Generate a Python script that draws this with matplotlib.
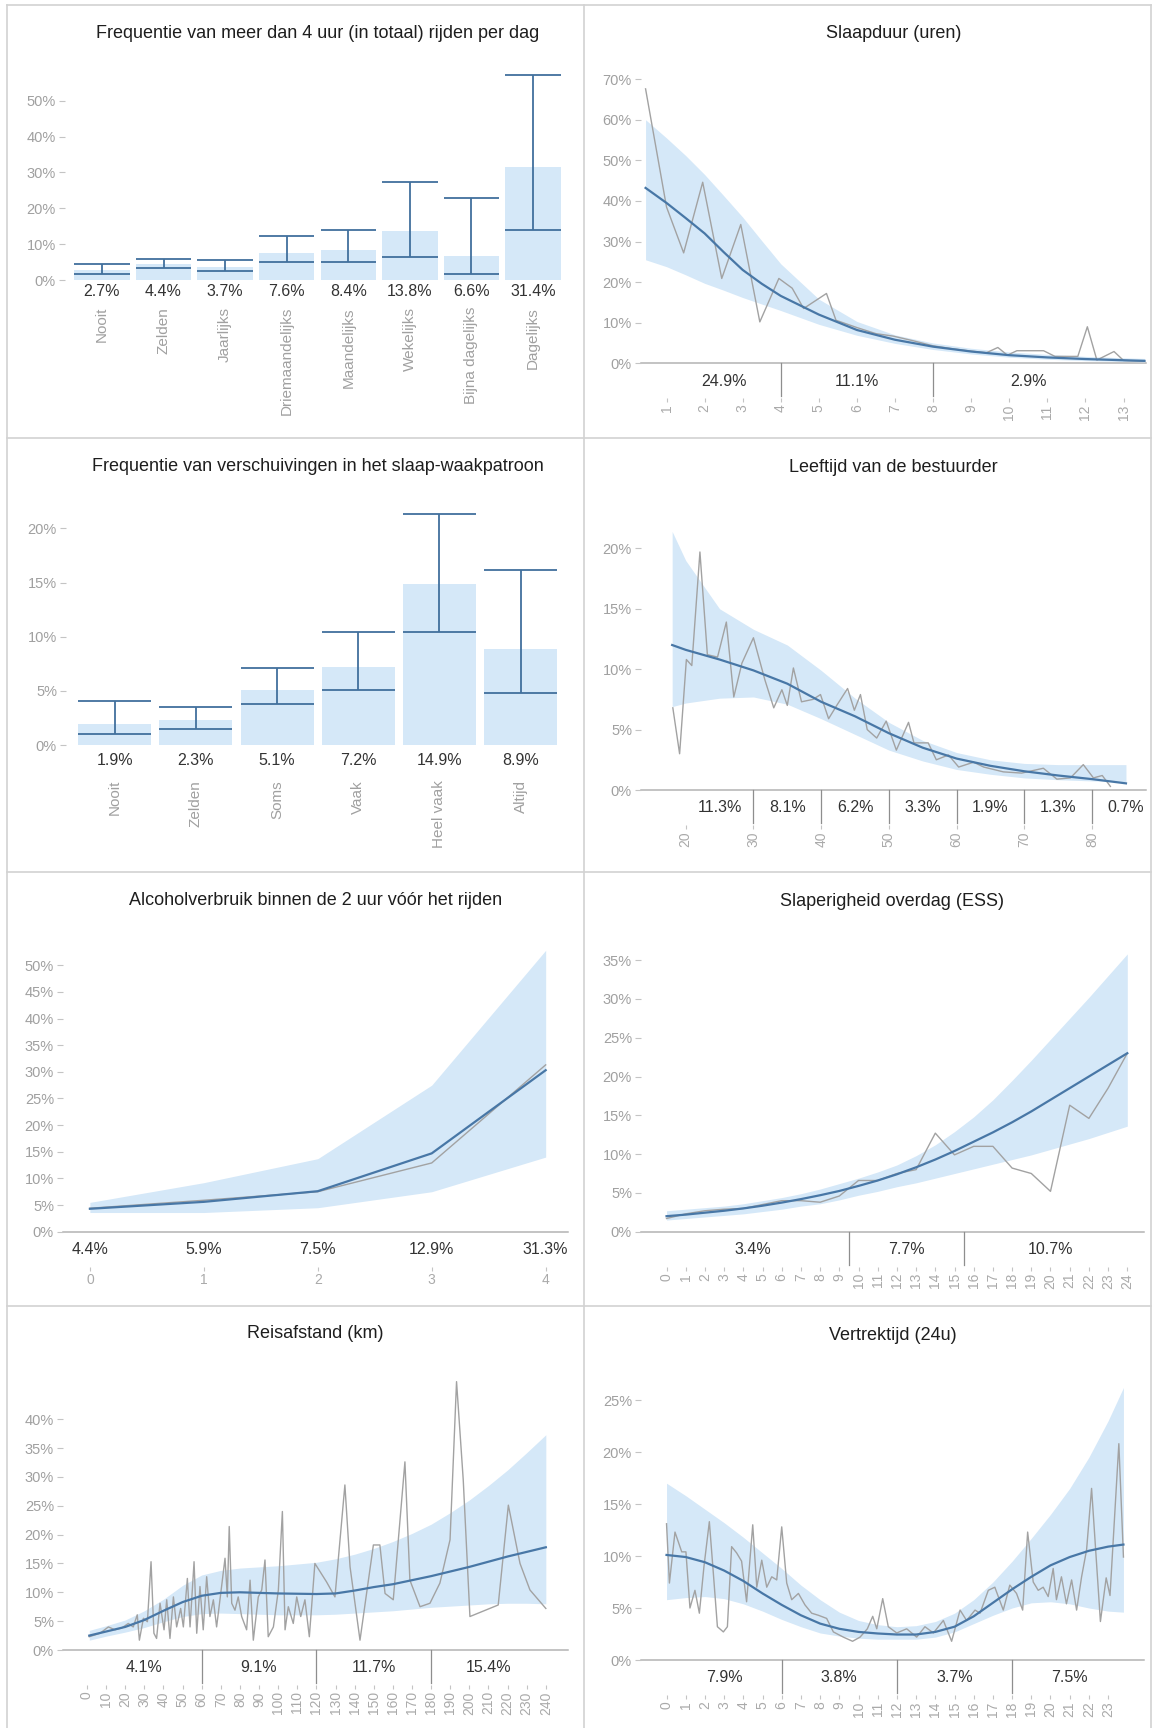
import matplotlib
matplotlib.use("Agg")
import matplotlib.pyplot as plt
from matplotlib.lines import Line2D
from matplotlib.transforms import blended_transform_factory, offset_copy
from matplotlib.ticker import FuncFormatter

plt.rcParams['font.family'] = ['Liberation Sans', 'DejaVu Sans']

# ---------------- data ----------------
# Frequentie van meer dan 4 uur rijden per dag
drive_cats = ['Nooit', 'Zelden', 'Jaarlijks', 'Driemaandelijks', 'Maandelijks',
              'Wekelijks', 'Bijna dagelijks', 'Dagelijks']
drive_pct = [2.7, 4.4, 3.7, 7.6, 8.4, 13.8, 6.6, 31.4]
drive_lo = [1.7, 3.4, 2.5, 4.9, 5.0, 6.3, 1.7, 13.9]
drive_hi = [4.6, 5.8, 5.6, 12.3, 13.9, 27.3, 22.8, 57.1]

# Frequentie van verschuivingen in het slaap-waakpatroon
shift_cats = ['Nooit', 'Zelden', 'Soms', 'Vaak', 'Heel vaak', 'Altijd']
shift_pct = [1.9, 2.3, 5.1, 7.2, 14.9, 8.9]
shift_lo = [1.0, 1.5, 3.75, 5.1, 10.4, 4.8]
shift_hi = [4.1, 3.5, 7.1, 10.4, 21.3, 16.2]

# Slaapduur (uren)
sleep_x = [0.45, 1.0, 1.45, 1.95, 2.45, 2.95, 3.45, 3.95, 4.3, 4.6, 5.2, 5.45, 6.0,
           6.5, 6.95, 7.5, 8.0, 8.5, 9.0, 9.4, 9.7, 9.95, 10.2, 10.9, 11.2, 11.8,
           12.05, 12.3, 12.75, 13.0, 13.55]
sleep_obs = [67.6, 38.5, 27.2, 44.6, 20.9, 34.2, 10.2, 20.9, 18.5, 13.5, 17.2, 10.6,
             8.8, 7.3, 6.7, 5.5, 4.3, 3.6, 3.0, 2.6, 3.9, 2.0, 3.1, 3.1, 1.7, 1.7,
             9.0, 0.8, 2.9, 0.7, 0.5]
sleep_fit_x = [0.45, 1, 1.5, 2, 2.5, 3, 3.5, 4, 5, 6, 7, 8, 9, 10, 11, 12, 13, 13.55]
sleep_fit = [43.2, 39.5, 35.8, 32.0, 27.4, 23.0, 19.6, 16.6, 12.0, 8.2, 5.8, 4.1, 2.9,
             2.0, 1.45, 1.05, 0.75, 0.6]
sleep_hi = [60.0, 55.5, 51.2, 46.5, 41.3, 36.0, 30.2, 24.5, 15.8, 10.3, 7.0, 5.0, 3.7,
            2.8, 2.2, 1.7, 1.35, 1.2]
sleep_lo = [25.5, 23.8, 21.8, 19.7, 18.0, 16.2, 14.6, 13.0, 9.6, 6.9, 4.9, 3.4, 2.3,
            1.5, 1.0, 0.65, 0.45, 0.35]
sleep_edges = [1, 4, 8, 13]
sleep_bins = ['24.9%', '11.1%', '2.9%']

# Leeftijd van de bestuurder
age_x = [18.1, 19.1, 20.1, 20.9, 22.1, 23.2, 24.7, 26.0, 27.1, 28.3, 30.0, 31.7, 33.0,
         34.2, 35.0, 35.9, 37.1, 38.8, 39.9, 41.1, 42.3, 43.9, 44.9, 45.8, 46.8, 48.2,
         49.6, 51.1, 52.9, 53.7, 55.8, 57.0, 58.8, 60.3, 62.5, 64.0, 66.9, 69.6, 72.8,
         74.8, 76.8, 78.7, 80.2, 81.5, 82.7]
age_obs = [6.8, 3.0, 10.8, 10.3, 19.7, 11.2, 11.0, 13.9, 7.7, 10.5, 12.6, 9.1, 6.8,
           8.3, 7.0, 10.1, 7.3, 7.5, 7.9, 5.9, 7.0, 8.4, 6.6, 7.9, 5.0, 4.3, 5.7, 3.3,
           5.6, 3.9, 3.9, 2.5, 2.9, 1.9, 2.3, 1.9, 1.5, 1.4, 1.8, 0.9, 1.0, 2.1, 1.0,
           1.2, 0.3]
age_fit_x = [18, 20, 25, 30, 35, 40, 45, 50, 55, 60, 65, 70, 75, 80, 85]
age_fit = [12.0, 11.6, 10.8, 9.9, 8.8, 7.3, 6.1, 4.7, 3.5, 2.6, 2.0, 1.55, 1.2, 0.9, 0.55]
age_hi = [21.4, 19.0, 15.0, 13.3, 12.0, 9.9, 7.6, 5.6, 4.1, 3.1, 2.5, 2.2, 2.1, 2.1, 2.1]
age_lo = [6.9, 7.2, 7.6, 7.7, 7.1, 5.9, 4.6, 3.3, 2.4, 1.7, 1.3, 1.0, 0.85, 0.75, 0.7]
age_edges = [20, 30, 40, 50, 60, 70, 80, 90]
age_bins = ['11.3%', '8.1%', '6.2%', '3.3%', '1.9%', '1.3%', '0.7%']

# Alcoholverbruik binnen de 2 uur voor het rijden
alc_x = [0, 1, 2, 3, 4]
alc_obs = [4.4, 5.9, 7.5, 12.9, 31.3]
alc_fit = [4.3, 5.6, 7.6, 14.7, 30.3]
alc_hi = [5.5, 9.2, 13.7, 27.5, 52.8]
alc_lo = [3.6, 3.6, 4.5, 7.5, 14.0]

# Slaperigheid overdag (ESS)
ess_x = list(range(25))
ess_obs = [1.7, 2.3, 2.7, 2.9, 3.0, 3.5, 4.0, 4.0, 3.8, 4.6, 6.6, 6.6, 7.5, 8.0, 12.7,
           9.9, 11.0, 11.0, 8.2, 7.5, 5.2, 16.3, 14.6, 18.5, 23.0]
ess_fit = [2.0, 2.2, 2.45, 2.7, 3.0, 3.35, 3.75, 4.2, 4.7, 5.25, 5.9, 6.6, 7.4, 8.3, 9.3,
           10.4, 11.6, 12.8, 14.1, 15.5, 17.0, 18.5, 20.0, 21.5, 23.0]
ess_hi = [2.7, 2.9, 3.1, 3.3, 3.6, 4.0, 4.4, 4.9, 5.5, 6.2, 6.9, 7.7, 8.6, 9.8, 11.2,
          12.9, 14.8, 17.0, 19.5, 22.1, 24.8, 27.5, 30.2, 33.0, 35.8]
ess_lo = [1.5, 1.7, 1.9, 2.1, 2.3, 2.6, 2.9, 3.3, 3.6, 4.1, 4.7, 5.2, 5.8, 6.3, 6.9,
          7.5, 8.1, 8.7, 9.3, 9.9, 10.6, 11.3, 12.0, 12.8, 13.6]
ess_edges = [-0.5, 9.5, 15.5, 24.5]
ess_bins = ['3.4%', '7.7%', '10.7%']

# Reisafstand (km)
km_x = [1.2, 6.8, 11.2, 14.6, 18.1, 21.6, 24.2, 26.3, 27.4, 29.5, 31.6, 33.5, 35.0,
        36.4, 38.2, 40.3, 41.7, 43.4, 45.2, 46.9, 49.0, 50.4, 52.5, 53.9, 56.0, 57.4,
        59.1, 60.8, 62.6, 64.3, 66.1, 67.8, 70.4, 72.2, 73.4, 74.4, 75.7, 77.4, 79.1,
        80.9, 83.5, 85.3, 87.0, 89.6, 91.4, 93.1, 94.8, 97.5, 100.1, 102.2, 103.6,
        105.3, 107.9, 109.7, 111.8, 114.0, 116.3, 119.2, 125.3, 129.7, 134.9, 137.6,
        142.8, 149.8, 153.2, 155.9, 160.2, 166.3, 168.9, 174.2, 179.4, 184.6, 189.9,
        193.3, 196.8, 200.3, 215.1, 220.4, 226.5, 231.7, 240.0]
km_obs = [2.3, 2.9, 4.0, 3.5, 3.8, 4.6, 4.0, 6.1, 1.7, 5.5, 4.9, 15.3, 2.9, 2.0, 8.1,
          3.5, 8.7, 2.0, 9.2, 4.0, 7.2, 4.0, 12.4, 4.0, 15.3, 2.9, 11.0, 3.5, 12.7,
          5.8, 8.7, 4.0, 11.0, 15.9, 9.2, 21.4, 8.1, 6.9, 9.2, 5.8, 3.5, 12.1, 1.7,
          9.2, 10.4, 15.6, 2.3, 4.0, 10.4, 24.0, 3.5, 7.5, 4.6, 9.2, 5.8, 8.7, 2.3,
          15.0, 11.8, 9.2, 28.6, 14.4, 1.7, 18.2, 18.2, 9.8, 8.7, 32.6, 12.1, 7.5, 8.1,
          11.6, 19.1, 46.5, 29.5, 5.8, 7.8, 25.1, 15.0, 10.4, 7.2]
km_fit_x = [1.2, 10, 20, 30, 40, 50, 60, 70, 80, 100, 120, 130, 140, 150, 160, 170,
            180, 190, 200, 210, 220, 230, 240]
km_fit = [2.5, 3.2, 4.0, 5.2, 6.8, 8.3, 9.4, 9.9, 10.0, 9.8, 9.7, 9.8, 10.3, 10.9,
          11.4, 12.1, 12.8, 13.6, 14.4, 15.3, 16.2, 17.0, 17.8]
km_hi = [3.4, 4.2, 5.2, 6.8, 8.8, 11.2, 13.0, 13.8, 14.2, 14.6, 15.2, 15.8, 16.6, 17.6,
         18.8, 20.2, 21.8, 23.8, 26.0, 28.5, 31.2, 34.2, 37.3]
km_lo = [1.7, 2.4, 3.1, 3.9, 4.9, 5.8, 6.3, 6.4, 6.3, 6.1, 6.1, 6.2, 6.4, 6.6, 6.8, 7.1,
         7.4, 7.6, 7.8, 8.0, 8.1, 8.1, 8.0]
km_edges = [0, 60, 120, 180, 240]
km_bins = ['4.1%', '9.1%', '11.7%', '15.4%']

# Vertrektijd (24u)
hour_x = [0.0, 0.15, 0.44, 0.79, 1.01, 1.22, 1.48, 1.71, 1.95, 2.23, 2.44, 2.65, 2.96,
          3.17, 3.39, 3.65, 3.91, 4.17, 4.49, 4.70, 4.96, 5.22, 5.48, 5.74, 6.0, 6.26,
          6.52, 6.87, 7.21, 7.56, 7.91, 8.34, 8.69, 9.21, 9.69, 10.08, 10.46, 10.74,
          10.95, 11.26, 11.55, 11.99, 12.51, 13.03, 13.46, 13.9, 14.42, 14.85, 15.29,
          15.63, 16.07, 16.33, 16.76, 17.1, 17.54, 17.88, 18.23, 18.55, 18.81, 19.1,
          19.36, 19.62, 19.88, 20.14, 20.31, 20.57, 20.83, 21.1, 21.36, 21.62, 21.88,
          22.14, 22.6, 22.9, 23.1, 23.56, 23.8]
hour_obs = [13.1, 7.4, 12.3, 10.4, 10.4, 5.0, 6.7, 4.5, 9.0, 13.3, 8.3, 3.2, 2.7, 3.2,
            10.9, 10.3, 9.5, 5.6, 13.0, 7.0, 9.6, 7.0, 8.0, 7.7, 12.8, 7.4, 5.8, 6.4,
            5.3, 4.5, 4.3, 4.0, 2.7, 2.2, 1.8, 2.2, 3.0, 4.2, 3.0, 5.9, 3.2, 2.6, 3.0,
            2.2, 3.2, 2.6, 3.8, 1.8, 4.8, 3.8, 4.8, 4.5, 6.7, 7.0, 4.8, 7.2, 6.4, 4.8,
            12.3, 7.5, 6.7, 7.0, 6.1, 8.8, 5.8, 8.0, 5.4, 7.7, 4.8, 8.0, 10.6, 16.5,
            3.7, 7.9, 6.2, 20.8, 9.9]
hour_fit_x = [0, 1, 2, 3, 4, 5, 6, 7, 8, 9, 10, 11, 12, 13, 14, 15, 16, 17, 18, 19, 20,
              21, 22, 23, 23.8]
hour_fit = [10.1, 9.9, 9.4, 8.6, 7.6, 6.4, 5.3, 4.3, 3.5, 3.0, 2.7, 2.55, 2.45, 2.45,
            2.7, 3.2, 4.2, 5.5, 6.8, 8.0, 9.1, 9.9, 10.5, 10.9, 11.1]
hour_hi = [17.0, 15.8, 14.5, 13.2, 11.8, 10.3, 8.8, 7.2, 5.8, 4.6, 3.8, 3.4, 3.2, 3.3,
           3.7, 4.5, 5.8, 7.5, 9.5, 11.7, 14.0, 16.5, 19.5, 23.0, 26.2]
hour_lo = [5.8, 6.0, 6.1, 5.9, 5.4, 4.7, 3.9, 3.2, 2.6, 2.3, 2.1, 2.0, 2.0, 2.0, 2.2,
           2.7, 3.5, 4.3, 5.0, 5.5, 5.6, 5.4, 5.0, 4.7, 4.6]
hour_edges = [0, 6, 12, 18, 24]
hour_bins = ['7.9%', '3.8%', '3.7%', '7.5%']

# ---------------- style ----------------
FILL = '#d5e8f8'
FIT = '#4877a6'
ERR = '#41709d'
OBS = '#a2a2a2'
TXT = '#1e1e1e'
VAL = '#333333'
YTICK = '#a0a0a0'
XTICK = '#aaaaaa'
RULE = '#b3b3b3'
SEP = '#8e8e8e'
FRAME = '#d2d2d2'

W, H = 1156, 1728
fig = plt.figure(figsize=(W / 100, H / 100), dpi=100)
fig.patch.set_facecolor('white')

pct = FuncFormatter(lambda v, _: f'{v:.0f}%')


def px_axes(left, right, zero, top):
    """Axes whose bottom edge sits at the 0% line (pixel coordinates, top-down)."""
    ax = fig.add_axes([left / W, 1 - zero / H, (right - left) / W, (zero - top) / H])
    ax.set_facecolor('none')
    for s in ax.spines.values():
        s.set_visible(False)
    return ax, zero - top


def base_style(ax, yticks, title, title_y):
    ax.set_yticks(yticks)
    ax.yaxis.set_major_formatter(pct)
    ax.tick_params(axis='y', length=4, width=0.8, color='#c4c4c4',
                   labelcolor=YTICK, labelsize=10.5, pad=2.5)
    box = ax.get_position()
    fig.text((box.x0 + box.x1) / 2, 1 - title_y / H, title, ha='center', va='center',
             fontsize=13, color=TXT)


def bar_panel(box, cats, vals, lo, hi, ylim, yticks, title, title_y, val_off, cat_off):
    ax, hpx = px_axes(*box)
    xs = list(range(len(cats)))
    width = 0.9
    ax.bar(xs, vals, width=width, color=FILL, zorder=1)
    ax.vlines(xs, lo, hi, color=ERR, lw=1.3, zorder=2)
    ax.hlines(lo, [x - width / 2 for x in xs], [x + width / 2 for x in xs], color=ERR, lw=1.3, zorder=2)
    ax.hlines(hi, [x - width / 2 for x in xs], [x + width / 2 for x in xs], color=ERR, lw=1.3, zorder=2)
    ax.set_xlim(-0.6, len(cats) - 0.4)
    ax.set_ylim(*ylim)
    base_style(ax, yticks, title, title_y)
    base = blended_transform_factory(ax.transData, ax.transAxes)
    tr = offset_copy(base, fig=fig, y=-val_off, units='dots')
    for x, v in zip(xs, vals):
        ax.text(x, 0, f'{v:.1f}%', transform=tr, ha='center', va='center',
                fontsize=11.5, color=VAL)
    ax.spines['bottom'].set_position(('outward', cat_off * 0.72))
    ax.set_xticks(xs)
    ax.set_xticklabels(cats, rotation=90, fontsize=11, color=YTICK)
    ax.tick_params(axis='x', length=0, pad=0)
    return ax


def line_panel(box, xlim, ylim, yticks, xticks, title, title_y,
               obs_x, obs_y, fit_x, fit_y, lo, hi,
               edges=None, bins=None, point_labels=None, xrot=90):
    ax, hpx = px_axes(*box)
    ax.fill_between(fit_x, lo, hi, color=FILL, lw=0, zorder=1)
    ax.plot(obs_x, obs_y, color=OBS, lw=1.0, zorder=2)
    ax.plot(fit_x, fit_y, color=FIT, lw=1.6, zorder=3)
    ax.axhline(0, color=RULE, lw=1.1, zorder=0, clip_on=False)
    ax.set_xlim(*xlim)
    ax.set_ylim(*ylim)
    base_style(ax, yticks, title, title_y)
    base = blended_transform_factory(ax.transData, ax.transAxes)
    tr = offset_copy(base, fig=fig, y=-18, units='dots')
    if edges is not None:
        for e in edges[1:-1]:
            ax.add_line(Line2D([e, e], [0, -33 / hpx], transform=base, color=SEP,
                               lw=0.9, clip_on=False))
        for a, b, lab in zip(edges[:-1], edges[1:], bins):
            ax.text((a + b) / 2, 0, lab, transform=tr, ha='center', va='center',
                    fontsize=11.5, color=VAL)
    if point_labels is not None:
        for x, v in zip(obs_x, point_labels):
            ax.text(x, 0, f'{v:.1f}%', transform=tr, ha='center', va='center',
                    fontsize=11.5, color=VAL)
    ax.spines['bottom'].set_position(('outward', 35 * 0.72))
    ax.set_xticks(xticks)
    ax.set_xticklabels([str(t) for t in xticks], rotation=xrot, fontsize=10, color=XTICK)
    ax.tick_params(axis='x', length=3, width=0.8, color='#c4c4c4', pad=1.5)
    return ax


# row 1
bar_panel((65, 570, 280, 64.8), drive_cats, drive_pct, drive_lo, drive_hi,
          (0, 60), range(0, 51, 10),
          'Frequentie van meer dan 4 uur (in totaal) rijden per dag', 33, 11, 27)
line_panel((641, 1146, 363.3, 71), (0.33, 13.59), (0, 72), range(0, 71, 10),
           list(range(1, 14)), 'Slaapduur (uren)', 33,
           sleep_x, sleep_obs, sleep_fit_x, sleep_fit, sleep_lo, sleep_hi,
           edges=sleep_edges, bins=sleep_bins)

# row 2
bar_panel((66, 569.4, 745, 506.7), shift_cats, shift_pct, shift_lo, shift_hi,
          (0, 22), range(0, 21, 5),
          'Frequentie van verschuivingen in het slaap-waakpatroon', 466.7, 15, 35)
line_panel((641, 1145.6, 790, 524.2), (13.4, 87.9), (0, 22), range(0, 21, 5),
           list(range(20, 81, 10)), 'Leeftijd van de bestuurder', 467.3,
           age_x, age_obs, age_fit_x, age_fit, age_lo, age_hi,
           edges=age_edges, bins=age_bins)

# row 3
line_panel((63, 568, 1231.7, 943.9), (-0.236, 4.196), (0, 54), range(0, 51, 5),
           alc_x, 'Alcoholverbruik binnen de 2 uur vóór het rijden', 900,
           alc_x, alc_obs, alc_x, alc_fit, alc_lo, alc_hi,
           point_labels=alc_obs, xrot=0)
line_panel((641, 1143.8, 1231.7, 944.6), (-1.33, 24.86), (0, 37), range(0, 36, 5),
           list(range(0, 25)), 'Slaperigheid overdag (ESS)', 901.7,
           ess_x, ess_obs, ess_x, ess_fit, ess_lo, ess_hi,
           edges=ess_edges, bins=ess_bins)

# row 4
line_panel((63, 568, 1650, 1373), (-12.55, 251.6), (0, 48), range(0, 41, 5),
           list(range(0, 241, 10)), 'Reisafstand (km)', 1333.3,
           km_x, km_obs, km_fit_x, km_fit, km_lo, km_hi,
           edges=km_edges, bins=km_bins)
line_panel((641, 1143.8, 1660, 1379.2), (-1.33, 24.86), (0, 27), range(0, 26, 5),
           list(range(0, 24)), 'Vertrektijd (24u)', 1335,
           hour_x, hour_obs, hour_fit_x, hour_fit, hour_lo, hour_hi,
           edges=hour_edges, bins=hour_bins)

# panel frames
for y in (5, 438, 872, 1306):
    fig.add_artist(Line2D([7 / W, 1151 / W], [1 - y / H, 1 - y / H],
                          transform=fig.transFigure, color=FRAME, lw=1.2))
for x in (7, 584, 1151):
    fig.add_artist(Line2D([x / W, x / W], [1 - 5 / H, 0],
                          transform=fig.transFigure, color=FRAME, lw=1.2))

fig.savefig('out.png', dpi=100, facecolor='white')
